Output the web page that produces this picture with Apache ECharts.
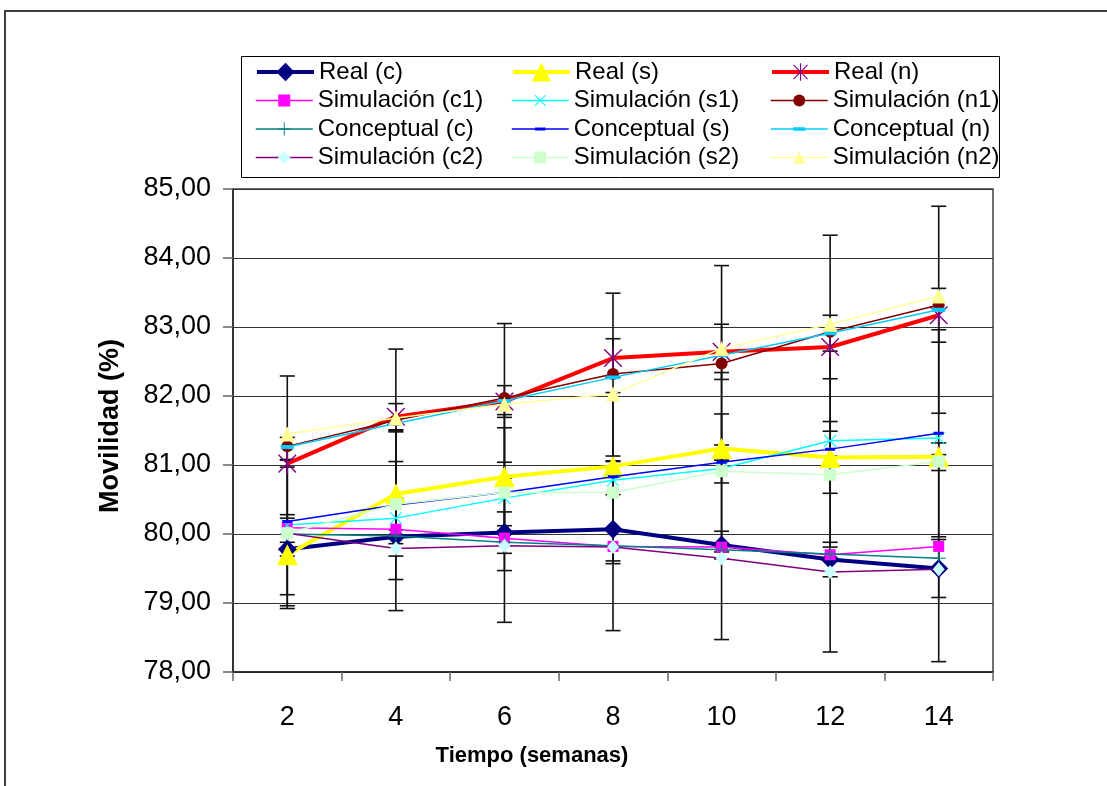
<!DOCTYPE html>
<html><head><meta charset="utf-8">
<script src="https://cdn.jsdelivr.net/npm/echarts@6/dist/echarts.min.js"></script>
<style>html,body{margin:0;padding:0;background:#fff}#c{width:1107px;height:786px}</style>
</head><body><div id="c"></div>
<script>
// ---- data ----
const categories = ['2', '4', '6', '8', '10', '12', '14'];
const yTicks = [78, 79, 80, 81, 82, 83, 84, 85];

const realC  = [79.78, 79.96, 80.02, 80.07, 79.84, 79.63, 79.50];
const realS  = [79.70, 80.58, 80.83, 80.98, 81.24, 81.11, 81.12];
const realN  = [81.02, 81.70, 81.92, 82.55, 82.64, 82.71, 83.17];
const simC1  = [80.09, 80.07, 79.94, 79.82, 79.81, 79.70, 79.82];
const simS1  = [80.13, 80.23, 80.52, 80.78, 80.95, 81.35, 81.39];
const simN1  = [81.27, 81.65, 81.97, 82.32, 82.47, 82.93, 83.32];
const concC  = [80.00, 79.97, 79.88, 79.83, 79.77, 79.71, 79.65];
const concS  = [80.18, 80.42, 80.60, 80.83, 81.04, 81.23, 81.46];
const concN  = [81.26, 81.60, 81.93, 82.27, 82.59, 82.91, 83.25];
const simC2  = [80.01, 79.79, 79.83, 79.81, 79.65, 79.45, 79.49];
const simS2  = [80.01, 80.43, 80.60, 80.60, 80.91, 80.86, 81.05];
const simN2  = [81.45, 81.68, 81.88, 82.03, 82.69, 83.04, 83.45];

// error bar half-lengths
const concErrC = [1.08, 1.08, 1.16, 1.23, 1.30, 1.42, 1.50];
const concErrS = [1.22, 1.08, 1.13, 1.22, 1.30, 1.42, 1.50];
const concErrN = [1.03, 1.08, 1.12, 1.22, 1.30, 1.42, 1.50];
const realErrC = [0.10, 0.10, 0.30, 0.50, 0.20, 0.25, 0.42];
const realErrS = [0.58, 0.90, 0.71, 0.15, 0.50, 0.52, 0.20];
const realErrN = [0.05, 0.19, 0.23, 0.28, 0.40, 0.46, 0.39];

// ---- style ----
const FONT = '"Liberation Sans", Arial, Helvetica, sans-serif';
const CORNERS = 'M0,0 L0.01,0 L0,0.01 Z M20,20 L19.99,20 L20,19.99 Z ';
const SYM_STAR = 'path://' + CORNERS +
  'M9.35,0 L10.65,0 L10.65,20 L9.35,20 Z ' +
  'M2.45,1.55 L18.45,17.55 L17.55,18.45 L1.55,2.45 Z ' +
  'M17.55,1.55 L18.45,2.45 L2.45,18.45 L1.55,17.55 Z';
const SYM_X = 'path://' + CORNERS +
  'M2.5,1.5 L18.5,17.5 L17.5,18.5 L1.5,2.5 Z ' +
  'M17.5,1.5 L18.5,2.5 L2.5,18.5 L1.5,17.5 Z';
const SYM_PLUS = 'path://' + CORNERS +
  'M9.3,0 L10.7,0 L10.7,20 L9.3,20 Z M0,9.3 L20,9.3 L20,10.7 L0,10.7 Z';
const SYM_DASH = 'path://' + CORNERS + 'M0,7 L20,7 L20,13 L0,13 Z';

function lineSeries(name, data, color, width, symbol, size, markerColor, z) {
  return {
    type: 'line', name, data, z: z,
    symbol, symbolSize: size,
    lineStyle: { color, width },
    itemStyle: { color: markerColor || color, borderWidth: 0 },
    emphasis: { disabled: true },
    silent: true
  };
}

function errSeries(center, err) {
  return {
    type: 'custom', z: 1, silent: true,
    data: center.map((v, i) => [i, v - err[i], v + err[i]]),
    encode: { x: 0, y: [1, 2] },
    renderItem(params, api) {
      const lo = api.coord([api.value(0), api.value(1)]);
      const hi = api.coord([api.value(0), api.value(2)]);
      const hw = 7.5, st = { stroke: '#111', lineWidth: 1.6 };
      return { type: 'group', children: [
        { type: 'line', shape: { x1: lo[0], y1: lo[1], x2: hi[0], y2: hi[1] }, style: st },
        { type: 'line', shape: { x1: lo[0] - hw, y1: lo[1], x2: lo[0] + hw, y2: lo[1] }, style: st },
        { type: 'line', shape: { x1: hi[0] - hw, y1: hi[1], x2: hi[0] + hw, y2: hi[1] }, style: st }
      ]};
    }
  };
}

const series = [
  errSeries(realC, realErrC), errSeries(realS, realErrS), errSeries(realN, realErrN),
  errSeries(concC, concErrC), errSeries(concS, concErrS), errSeries(concN, concErrN),
  lineSeries('Real (c)', realC, '#000080', 4, 'diamond', 19, null, 3),
  lineSeries('Real (s)', realS, '#FFFF00', 4, 'triangle', 21, null, 3),
  lineSeries('Real (n)', realN, '#FF0000', 4, SYM_STAR, 22, '#800080', 3),
  lineSeries('Simulación (c1)', simC1, '#FF00FF', 1.5, 'rect', 11, null, 4),
  lineSeries('Simulación (s1)', simS1, '#00FFFF', 1.5, SYM_X, 15, null, 4),
  lineSeries('Simulación (n1)', simN1, '#800000', 1.5, 'circle', 12, null, 4),
  lineSeries('Conceptual (c)', concC, '#008080', 1.5, SYM_PLUS, 14, null, 5),
  lineSeries('Conceptual (s)', concS, '#0000FF', 1.5, SYM_DASH, 10, null, 5),
  lineSeries('Conceptual (n)', concN, '#00CCFF', 1.5, SYM_DASH, 13, null, 5),
  lineSeries('Simulación (c2)', simC2, '#800080', 1.5, 'diamond', [12, 14], '#CCFFFF', 6),
  lineSeries('Simulación (s2)', simS2, '#CCFFCC', 1.5, 'rect', 12, null, 6),
  lineSeries('Simulación (n2)', simN2, '#FFFF99', 1.5, 'triangle', 15, null, 6)
];

const legendNames = ['Real (c)', 'Real (s)', 'Real (n)',
  'Simulación (c1)', 'Simulación (s1)', 'Simulación (n1)',
  'Conceptual (c)', 'Conceptual (s)', 'Conceptual (n)',
  'Simulación (c2)', 'Simulación (s2)', 'Simulación (n2)'];
const legendIconH = [23, 24, 22, 15, 17, 15, 17, 13, 15, 16, 15, 16];
const colLeft = [255, 511, 770];
const rowTop = [58, 86.5, 115, 143.5];

const legends = legendNames.map((nm, k) => ({
  data: [nm], left: colLeft[k % 3], top: rowTop[Math.floor(k / 3)],
  itemWidth: 57, itemHeight: legendIconH[k], padding: 0, selectedMode: false,
  textStyle: { fontSize: 24, fontFamily: FONT, color: '#000', lineHeight: 28 },
  lineStyle: { width: 'inherit' }
}));

const chart = echarts.init(document.getElementById('c'), null, { renderer: 'canvas' });
chart.setOption({
  animation: false,
  backgroundColor: '#fff',
  grid: { left: 233, right: 114, top: 189, bottom: 114, show: true, borderColor: '#404040', borderWidth: 1.5 },
  xAxis: {
    type: 'category', data: categories, boundaryGap: true,
    axisLine: { lineStyle: { color: '#222', width: 1.5 } },
    axisTick: { show: true, length: 9, lineStyle: { color: '#666', width: 1.5 } },
    axisLabel: { fontSize: 27, fontFamily: FONT, color: '#000', margin: 32 },
    splitLine: { show: false }
  },
  yAxis: {
    type: 'value', min: yTicks[0], max: yTicks[yTicks.length - 1], interval: 1,
    axisLine: { show: true, lineStyle: { color: '#222', width: 1.5 } },
    axisTick: { show: true, length: 10, lineStyle: { color: '#666', width: 1.5 } },
    axisLabel: { fontSize: 27, fontFamily: FONT, color: '#000', margin: 22,
      formatter: v => v.toFixed(2).replace('.', ',') },
    splitLine: { show: true, lineStyle: { color: '#333', width: 1 } }
  },
  legend: legends,
  series,
  graphic: [
    { type: 'polyline', shape: { points: [[5, 786], [5, 11], [1107, 11]] }, style: { stroke: '#404040', lineWidth: 2, fill: null }, z: 0 },
    { type: 'rect', shape: { x: 241.5, y: 56.5, width: 758, height: 121 }, style: { stroke: '#000', lineWidth: 1, fill: null }, z: 0 },
    { type: 'text', x: 111, y: 426, rotation: Math.PI / 2,
      style: { text: 'Movilidad (%)', font: 'bold 27px ' + FONT, fill: '#000', textAlign: 'center', textVerticalAlign: 'middle' } },
    { type: 'text', x: 532, y: 756,
      style: { text: 'Tiempo (semanas)', font: 'bold 22px ' + FONT, fill: '#000', textAlign: 'center', textVerticalAlign: 'middle' } }
  ]
});
</script>
</body></html>
